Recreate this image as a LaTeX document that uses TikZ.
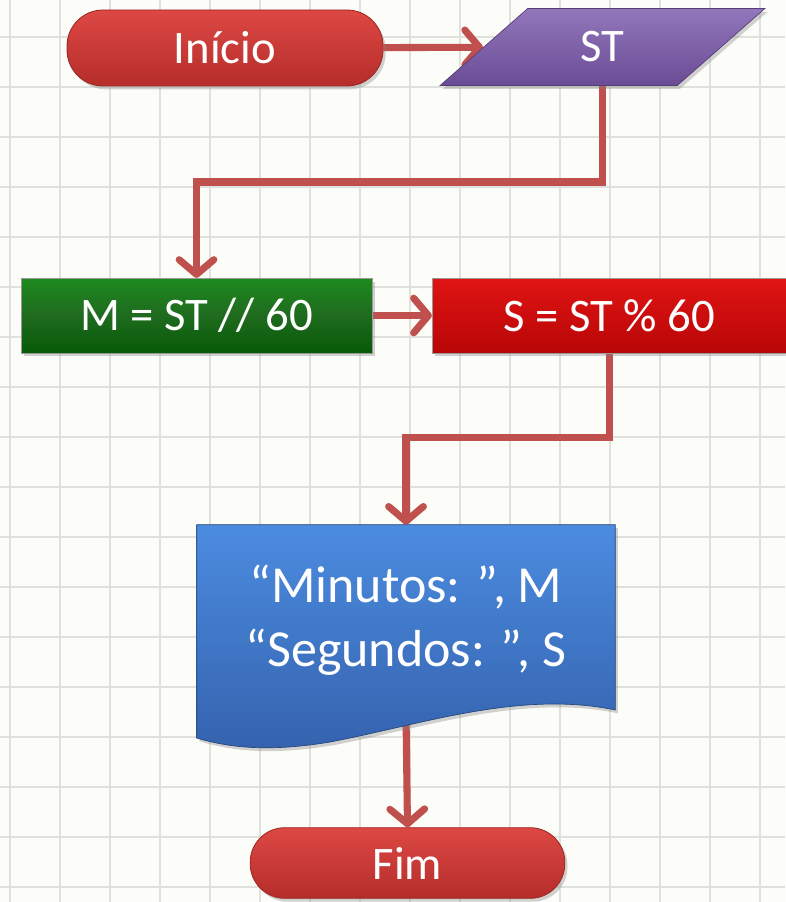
\documentclass[tikz,border=0pt]{standalone}
\usepackage{fontspec}
\setmainfont{Carlito}
\usetikzlibrary{arrows.meta,shapes.geometric,shadows,backgrounds}
\definecolor{bgc}{HTML}{FCFDF8}
\definecolor{gridc}{HTML}{E0E0DC}
\definecolor{arrc}{HTML}{C0504D}
\definecolor{redtop}{HTML}{DD4844}
\definecolor{redbot}{HTML}{B52D2A}
\definecolor{redline}{HTML}{9A2622}
\definecolor{purtop}{HTML}{9277BC}
\definecolor{purbot}{HTML}{6A4C94}
\definecolor{grntop}{HTML}{1E8A1E}
\definecolor{grnbot}{HTML}{065A06}
\definecolor{srtop}{HTML}{E01414}
\definecolor{srbot}{HTML}{B80606}
\definecolor{blutop}{HTML}{4C8CE0}
\definecolor{blubot}{HTML}{3462AE}
\pgfdeclarelayer{gridlayer}
\pgfdeclarelayer{conn}
\pgfdeclarelayer{shapes}
\pgfsetlayers{gridlayer,conn,shapes,main}
\tikzset{
  txt/.style={text=white,font=\fontsize{35}{42}\selectfont,inner sep=0pt},
  sh/.style={drop shadow={opacity=0.35,shadow xshift=2pt,shadow yshift=-2.5pt}},
  pill/.style={txt,sh,rounded corners=27pt,top color=redtop,bottom color=redbot,draw=redline,line width=0.6pt},
  procbox/.style={txt,sh,draw=black!40,line width=0.4pt},
  arr/.style={draw=arrc,line width=5.3pt,-{Straight Barb[length=11pt,width=26pt,round]}},
}
\begin{document}
\begin{tikzpicture}[x=0.75pt,y=-0.75pt]
\useasboundingbox (0,0) rectangle (785,902);
\begin{pgfonlayer}{gridlayer}
\fill[bgc] (0,0) rectangle (785,902);
\foreach \i in {0,...,15} {\draw[gridc,line width=1.2pt] (10+50*\i,0) -- (10+50*\i,902);}
\foreach \j in {0,...,17} {\draw[gridc,line width=1.2pt] (0,37+50*\j) -- (785,37+50*\j);}
\end{pgfonlayer}

% nodes
\node[pill,minimum width=237pt,minimum height=57pt] (ini) at (225,48) {Início};
\node[txt,sh,trapezium,trapezium left angle=50,trapezium right angle=130,trapezium stretches=true,
  minimum width=243.75pt,minimum height=57.75pt,top color=purtop,bottom color=purbot,draw=purbot!80!black,line width=0.5pt] (st) at (602.5,47) {ST};
\node[procbox,minimum width=263pt,minimum height=56pt,top color=grntop,bottom color=grnbot,middle color=grnbot!90!white] (m) at (196.5,315.5) {M = ST // 60};
\node[procbox,minimum width=266pt,minimum height=56pt,top color=srtop,bottom color=srbot] (s) at (609.5,315.5) {S = ST \% 60};
\node[txt,font=\fontsize{39}{48}\selectfont,align=center,minimum width=313.5pt,minimum height=142.5pt] (doc) at (406,620) {“Minutos: ”, M\\“Segundos: ”, S};
\node[pill,minimum width=236pt,minimum height=53pt,rounded corners=26pt] (fim) at (407.5,863) {Fim};

% document shape
\begin{pgfonlayer}{shapes}
\path[sh,top color=blutop,bottom color=blubot,draw=blubot!70!black,line width=0.5pt]
  (doc.north west) -- (doc.north east) -- (doc.east |- 0,710)
  .. controls (520,690) and (420,725) .. (330,742)
  .. controls (270,752) and (230,748) .. (doc.west |- 0,738) -- cycle;
\end{pgfonlayer}

% connectors
\begin{pgfonlayer}{conn}
\draw[arr] (ini) -- (st);
\draw[arr] (st.center) -- ++(0,135) -| (m.north);
\draw[arr] (m) -- (s);
\draw[arr] (s.south) -- ++(0,84) -| (doc.north);
\draw[arr] (doc.south) -- (fim.north);
\end{pgfonlayer}
\end{tikzpicture}
\end{document}
